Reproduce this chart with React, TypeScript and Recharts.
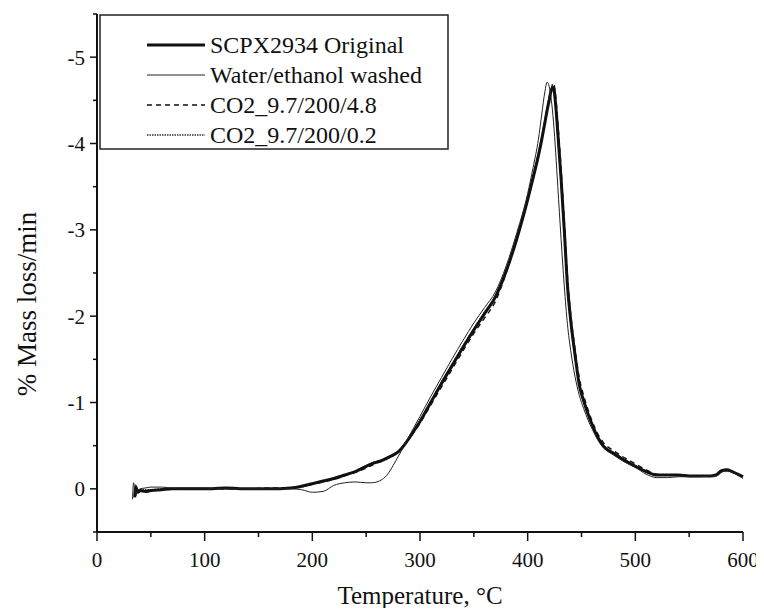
import { LineChart, Line, XAxis, YAxis } from 'recharts'

const temps = [
  33, 34, 35, 36, 38, 40, 45, 50, 60, 70,
  80, 100, 120, 140, 160, 180, 190, 200, 210, 220,
  230, 240, 250, 255, 260, 265, 270, 275, 280, 285,
  290, 300, 310, 320, 330, 340, 350, 360, 370, 380,
  390, 400, 405, 410, 413, 416, 418, 420, 422, 424,
  426, 428, 431, 434, 437, 440, 444, 448, 452, 456,
  460, 465, 470, 480, 490, 500, 510, 520, 530, 540,
  550, 560, 570, 575, 580, 585, 590, 595, 600,
]

const original = [
  null, null, 0.1, -0.02, 0.04, 0.02, 0.03, 0.02, 0.01, 0.0,
  0.0, 0.0, -0.01, 0.0, 0.0, -0.01, -0.03, -0.06, -0.09, -0.12,
  -0.16, -0.2, -0.26, -0.29, -0.31, -0.33, -0.36, -0.39, -0.43, -0.5,
  -0.59, -0.78, -1.0, -1.22, -1.43, -1.64, -1.84, -2.03, -2.22, -2.52,
  -2.9, -3.35, -3.6, -3.86, -4.04, -4.24, -4.38, -4.5, -4.62, -4.65,
  -4.45, -4.12, -3.6, -3.0, -2.35, -1.95, -1.55, -1.2, -1.02, -0.87,
  -0.74, -0.6, -0.5, -0.41, -0.33, -0.26, -0.2, -0.16, -0.16, -0.16,
  -0.15, -0.15, -0.15, -0.16, -0.21, -0.22, -0.2, -0.17, -0.14,
]

const washed = [
  0.12, -0.07, 0.0, 0.05, 0.02, 0.0, -0.01, -0.02, -0.02, -0.01,
  -0.01, -0.01, 0.0, 0.0, 0.0, 0.0, 0.01, 0.04, 0.03, -0.04,
  -0.07, -0.08, -0.07, -0.07, -0.08, -0.11, -0.17, -0.27, -0.38, -0.49,
  -0.61, -0.84, -1.07, -1.29, -1.51, -1.72, -1.92, -2.1, -2.28, -2.58,
  -2.97, -3.42, -3.72, -4.05, -4.33, -4.6, -4.71, -4.66, -4.5, -4.25,
  -3.9, -3.5, -2.9, -2.35, -1.9, -1.6, -1.3, -1.08, -0.93, -0.8,
  -0.69, -0.57, -0.48, -0.39, -0.31, -0.25, -0.17, -0.13, -0.13, -0.14,
  -0.14, -0.14, -0.15, -0.15, -0.19, -0.21, -0.19, -0.16, -0.12,
]

const co2High = [
  null, null, null, 0.08, 0.0, 0.03, 0.02, 0.02, 0.01, 0.0,
  0.0, 0.0, 0.0, 0.0, -0.01, -0.01, -0.03, -0.05, -0.08, -0.11,
  -0.15, -0.19, -0.24, -0.27, -0.3, -0.32, -0.35, -0.39, -0.43, -0.5,
  -0.58, -0.76, -0.97, -1.18, -1.39, -1.6, -1.8, -1.98, -2.17, -2.5,
  -2.9, -3.36, -3.62, -3.88, -4.06, -4.26, -4.4, -4.53, -4.64, -4.7,
  -4.55, -4.25, -3.72, -3.1, -2.45, -2.02, -1.62, -1.28, -1.08, -0.92,
  -0.78, -0.64, -0.54, -0.44, -0.36, -0.29, -0.22, -0.17, -0.16, -0.16,
  -0.15, -0.15, -0.15, -0.16, -0.2, -0.21, -0.2, -0.17, -0.15,
]

const co2Low = [
  null, null, 0.05, -0.05, 0.02, 0.01, 0.01, 0.01, 0.0, 0.0,
  0.0, 0.0, 0.0, 0.0, 0.0, -0.01, -0.02, -0.05, -0.08, -0.12,
  -0.16, -0.21, -0.27, -0.3, -0.32, -0.34, -0.37, -0.4, -0.44, -0.51,
  -0.6, -0.8, -1.02, -1.24, -1.45, -1.66, -1.86, -2.05, -2.24, -2.54,
  -2.93, -3.38, -3.64, -3.9, -4.08, -4.28, -4.42, -4.55, -4.63, -4.6,
  -4.38, -4.05, -3.52, -2.92, -2.3, -1.9, -1.52, -1.2, -1.02, -0.86,
  -0.73, -0.59, -0.5, -0.42, -0.34, -0.27, -0.2, -0.16, -0.16, -0.16,
  -0.15, -0.15, -0.15, -0.16, -0.2, -0.21, -0.2, -0.17, -0.15,
]

const xTicks = [0, 50, 100, 150, 200, 250, 300, 350, 400, 450, 500, 550, 600]
const yTicks = [0.5, 0, -0.5, -1, -1.5, -2, -2.5, -3, -3.5, -4, -4.5, -5, -5.5]

const LEGEND = [
  { label: 'SCPX2934 Original', width: 3, dash: undefined, color: '#111' },
  { label: 'Water/ethanol washed', width: 1, dash: undefined, color: '#222' },
  { label: 'CO2_9.7/200/4.8', width: 1.4, dash: '5 4', color: '#111' },
  { label: 'CO2_9.7/200/0.2', width: 1.4, dash: '1.5 1', color: '#333' },
]

const FONT = 'Liberation Serif, DejaVu Serif, serif'
const INK = '#111'

const data = temps.map((t, i) => ({
  t,
  original: original[i],
  washed: washed[i],
  co2High: co2High[i],
  co2Low: co2Low[i],
}))

function XTick(props: any) {
  const { x, y, payload } = props
  const major = payload.value % 100 === 0
  return (
    <g>
      <line x1={x} x2={x} y1={y} y2={y + (major ? 9 : 5)} stroke={INK} strokeWidth={1.5} />
      {major && (
        <text x={x} y={y + 35} textAnchor="middle" fill={INK} style={{ fontFamily: FONT, fontSize: 21 }}>
          {payload.value}
        </text>
      )}
    </g>
  )
}

function YTick(props: any) {
  const { x, y, payload } = props
  const v = payload.value
  const major = Math.abs(v - Math.round(v)) < 1e-9
  if (v > 0.25 || v < -5.25) {
    return <line x1={x} x2={x - 4} y1={y} y2={y} stroke={INK} strokeWidth={1.5} />
  }
  return (
    <g>
      <line x1={x} x2={x - (major ? 7 : 4)} y1={y} y2={y} stroke={INK} strokeWidth={1.5} />
      {major && (
        <text x={x - 12} y={y} dy="0.35em" textAnchor="end" fill={INK} style={{ fontFamily: FONT, fontSize: 21 }}>
          {v === 0 ? '0' : String(v)}
        </text>
      )}
    </g>
  )
}

export default function App() {
  return (
    <div style={{ position: 'relative', width: 756, height: 600, fontFamily: FONT, background: '#fff' }}>
      <LineChart width={756} height={600} data={data} margin={{ top: 6, right: 21, bottom: 26, left: 29 }}>
        <XAxis
          dataKey="t"
          type="number"
          domain={[0, 600]}
          ticks={xTicks}
          interval={0}
          height={50}
          tickSize={0}
          tickMargin={0}
          tickLine={false}
          axisLine={{ stroke: INK, strokeWidth: 2 }}
          tick={<XTick />}
        />
        <XAxis
          xAxisId="top"
          orientation="top"
          dataKey="t"
          type="number"
          domain={[0, 600]}
          height={0}
          tick={false}
          tickLine={false}
          axisLine={{ stroke: INK, strokeWidth: 2 }}
        />
        <YAxis
          type="number"
          domain={[-5.5, 0.5]}
          reversed
          allowDataOverflow
          ticks={yTicks}
          interval={0}
          width={60}
          tickSize={0}
          tickMargin={0}
          tickLine={false}
          axisLine={{ stroke: INK, strokeWidth: 2 }}
          tick={<YTick />}
        />
        <YAxis
          yAxisId="right"
          orientation="right"
          type="number"
          domain={[-5.5, 0.5]}
          width={0}
          tick={false}
          tickLine={false}
          axisLine={{ stroke: INK, strokeWidth: 2 }}
        />
        <Line dataKey="co2Low" type="monotone" stroke="#333" strokeWidth={1.2} strokeDasharray="1.5 1" dot={false} isAnimationActive={false} />
        <Line dataKey="co2High" type="monotone" stroke="#111" strokeWidth={1.4} strokeDasharray="5 4" dot={false} isAnimationActive={false} />
        <Line dataKey="original" type="monotone" stroke="#111" strokeWidth={3} dot={false} isAnimationActive={false} />
        <Line dataKey="washed" type="monotone" stroke="#222" strokeWidth={1} dot={false} isAnimationActive={false} />
      </LineChart>

      {/* legend box and axis titles */}
      <svg width={756} height={600} style={{ position: 'absolute', left: 0, top: 0, pointerEvents: 'none', fontFamily: FONT }}>
        <rect x={92} y={7} width={348} height={134} fill="#fff" stroke="#222" strokeWidth={1.5} />
        {LEGEND.map((item, i) => (
          <g key={item.label}>
            <line
              x1={139}
              x2={197}
              y1={37 + i * 30}
              y2={37 + i * 30}
              stroke={item.color}
              strokeWidth={item.width}
              strokeDasharray={item.dash}
            />
            <text x={202} y={37 + i * 30} dy="0.35em" fill={INK} style={{ fontFamily: FONT, fontSize: 24 }}>
              {item.label}
            </text>
          </g>
        ))}
        <text x={412} y={596} textAnchor="middle" fill={INK} style={{ fontFamily: FONT, fontSize: 25 }}>
          Temperature, °C
        </text>
        <text x={28} y={296} textAnchor="middle" fill={INK} transform="rotate(-90 28 296)" style={{ fontFamily: FONT, fontSize: 27 }}>
          % Mass loss/min
        </text>
      </svg>
    </div>
  )
}
